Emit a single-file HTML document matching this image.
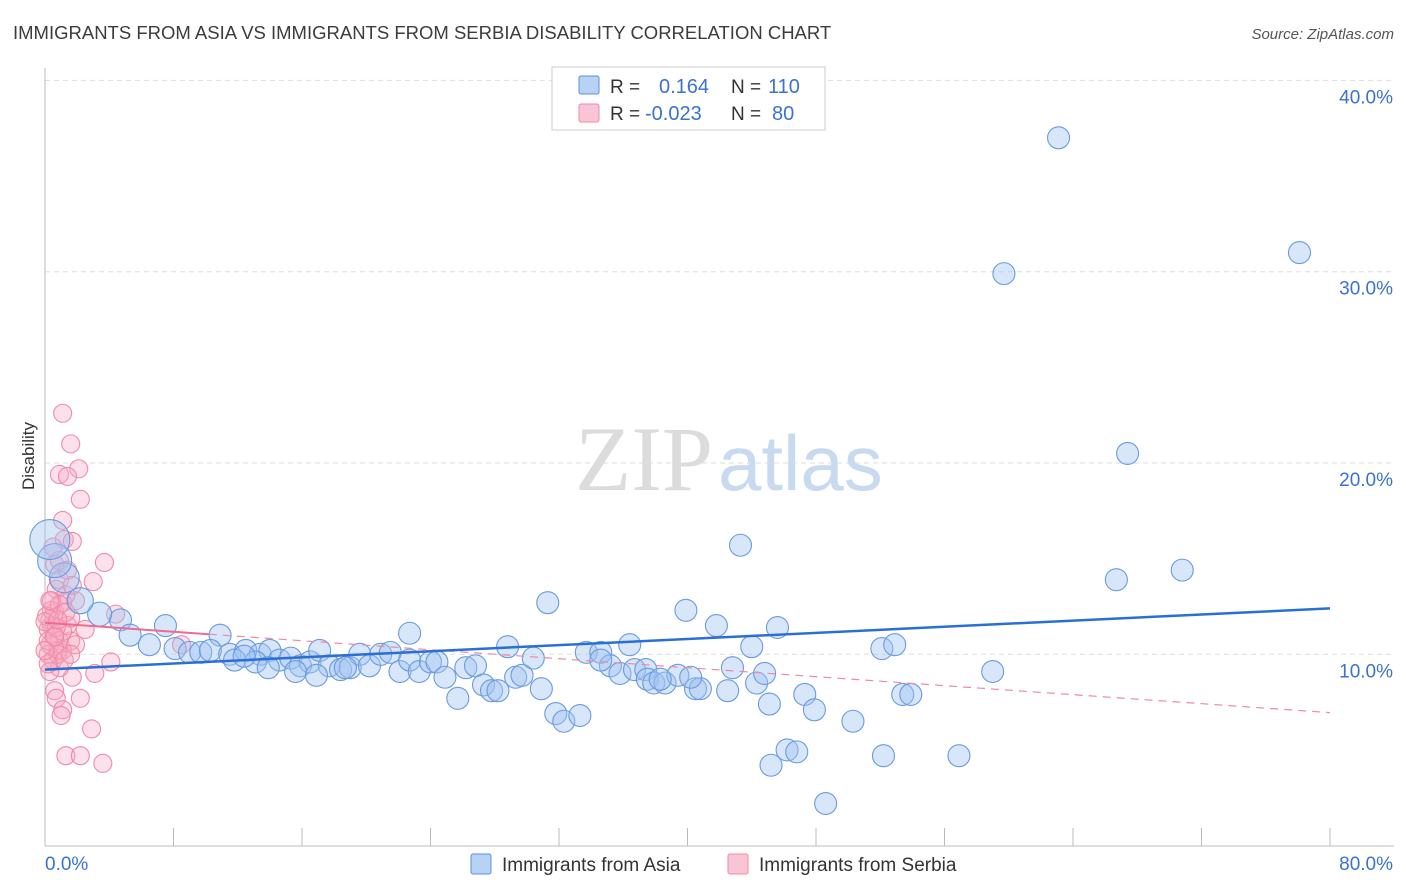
<!DOCTYPE html>
<html><head><meta charset="utf-8">
<style>
body{margin:0;background:#fff;font-family:"Liberation Sans",sans-serif;}
#wrap{position:relative;width:1406px;height:892px;overflow:hidden;}
svg{position:absolute;left:0;top:0;}
</style></head>
<body>
<div id="wrap">
<svg id="chart" width="1406" height="892">
  <text x="13" y="39" font-size="18.5" fill="#3c3c3c">IMMIGRANTS FROM ASIA VS IMMIGRANTS FROM SERBIA DISABILITY CORRELATION CHART</text>
  <text x="1394" y="39" font-size="15" fill="#555" font-style="italic" text-anchor="end">Source: ZipAtlas.com</text>
  <text x="713" y="490" font-size="92" fill="#dcdcdc" text-anchor="end" font-family="Liberation Serif,serif">ZIP</text>
  <text x="718" y="490" font-size="78" fill="#c8daf0">atlas</text>
  <text x="34" y="456" font-size="17" fill="#333" text-anchor="middle" transform="rotate(-90 34 456)">Disability</text>
  <g id="grid"></g>
  <g id="marks"></g>
  <g id="lines"></g>
  <g>
    <rect x="552" y="67" width="273" height="63" fill="#fff" stroke="#ccc"/>
    <rect x="579" y="76" width="20" height="18" fill="#b8d2f4" stroke="#5b8fde" rx="2"/>
    <rect x="579" y="104" width="20" height="18" fill="#f9c4d4" stroke="#f08aa8" rx="2"/>
    <text x="610" y="93" font-size="19" fill="#333">R =</text>
    <text x="659" y="93" font-size="20" fill="#3a72d0">0.164</text>
    <text x="731" y="93" font-size="19" fill="#333">N =</text>
    <text x="768" y="93" font-size="20" fill="#3a72d0">110</text>
    <text x="610" y="120" font-size="19" fill="#333">R =</text>
    <text x="645" y="120" font-size="20" fill="#3a72d0">-0.023</text>
    <text x="731" y="120" font-size="19" fill="#333">N =</text>
    <text x="772" y="120" font-size="20" fill="#3a72d0">80</text>
  </g>
  <g>
    <rect x="471" y="854" width="20" height="20" fill="#b8d2f4" stroke="#5b8fde" rx="2"/>
    <text x="502" y="871" font-size="19" fill="#333">Immigrants from Asia</text>
    <rect x="728" y="854" width="20" height="20" fill="#f9c4d4" stroke="#f08aa8" rx="2"/>
    <text x="759" y="871" font-size="19" fill="#333">Immigrants from Serbia</text>
  </g>
</svg>
</div>
<script>
const yTicks=[10,20,30,40];
const yTickLabels=["10.0%","20.0%","30.0%","40.0%"];
const xTickLabels=["0.0%","80.0%"];
const asiaX=[63.1,78.1,59.7,67.4,43.3,66.7,70.8,31.3,39.9,41.8,45.6,22.7,36.4,44.0,52.1,52.9,28.8,59.0,10.9,7.5,4.7,3.4,2.2,1.2,0.6,0.3,5.3,6.5,8.1,9.0,9.7,10.3,11.5,12.5,13.4,14.0,14.6,15.3,15.9,16.5,17.1,17.7,18.4,19.0,19.6,20.2,20.9,21.5,22.1,22.7,23.3,24.0,24.4,24.9,25.7,26.2,26.8,27.3,27.8,28.2,29.3,29.7,30.4,30.9,31.8,32.3,33.3,33.7,34.6,35.2,35.8,36.7,37.4,37.5,37.9,38.6,39.4,40.5,40.8,42.5,42.8,44.3,44.8,45.1,47.3,47.9,46.2,46.8,45.2,50.3,48.6,52.2,53.4,53.9,56.9,11.8,13.1,12.4,13.9,15.6,16.9,18.7,34.6,38.3,40.2];
const asiaY=[37.0,31.0,29.9,20.5,15.7,13.9,14.4,12.7,12.3,11.5,11.4,11.1,10.5,10.4,10.3,10.5,10.4,9.1,11.0,11.5,11.8,12.1,12.8,14.0,14.9,16.0,11.0,10.5,10.3,10.1,10.1,10.2,10.0,10.2,10.0,10.2,9.7,9.8,9.4,9.6,10.2,9.4,9.2,9.3,10.0,9.4,10.0,10.1,9.1,9.7,9.1,9.6,9.6,8.8,7.7,9.3,9.4,8.4,8.1,8.1,8.8,8.9,9.8,8.2,6.9,6.5,6.8,10.1,10.1,9.4,9.0,9.2,9.2,8.7,8.5,8.5,8.9,8.2,8.2,8.1,9.3,8.5,9.0,7.4,7.9,7.1,5.0,4.9,4.2,6.5,2.2,4.7,7.9,7.9,4.7,9.7,9.6,9.9,9.3,9.1,8.9,9.3,9.7,8.7,8.8];
const serbiaX=[1.1,1.6,2.1,0.9,1.4,2.2,1.1,1.2,1.7,0.6,0.9,3.7,3.0,1.9,1.1,0.6,0.3,0.4,0.2,0.6,0.9,0.3,0.8,0.2,0.5,1.1,1.6,1.4,2.5,4.4,3.1,1.7,0.9,0.3,0.6,2.2,0.7,1.1,1.0,2.9,1.3,2.2,3.6,8.5,4.1,0.7,1.3,0.4,1.1,1.6,0.2,0.7,0.8,0.1,0.4,1.2,1.9,0.9,0.0,0.3,0.6,1.3,0.8,1.6,0.2,0.9,0.5,1.4,1.7,0.0];
const serbiaY=[22.6,21.0,19.7,19.4,19.3,18.1,17.0,16.0,15.9,14.7,13.9,14.8,13.8,12.8,12.7,12.2,11.8,11.5,11.3,11.0,10.7,10.5,10.2,10.0,9.7,10.2,10.7,11.5,11.3,12.1,9.0,8.8,9.3,9.1,8.1,7.7,7.7,7.1,6.8,6.1,4.7,4.7,4.3,10.5,9.6,13.4,13.1,12.3,11.2,11.9,10.7,11.4,10.0,12.0,12.8,9.7,10.5,12.6,11.7,12.8,10.9,12.2,11.8,10.0,9.5,14.9,15.6,14.4,13.6,10.2];
const asiaTrend=[9.2,12.4];
const serbiaTrend=[11.65,6.95];
const serbiaSolidEnd=10.2;

const X0=45,X1=1330,Y0=845.6,PY=19.13;
const xs=v=>X0+v*(X1-X0)/80;
const ys=v=>Y0-v*PY;
const NS="http://www.w3.org/2000/svg";
function mk(tag,attrs,parent){const e=document.createElementNS(NS,tag);for(const k in attrs)e.setAttribute(k,attrs[k]);parent.appendChild(e);return e;}
const grid=document.getElementById('grid');
yTicks.forEach((t,i)=>{
  const l=mk('line',{x1:X0,x2:1394,y1:ys(t),y2:ys(t),stroke:'#ddd','stroke-dasharray':'5,4'},grid);
  
  
  const tx=mk('text',{x:1393,y:ys(t)+23,'font-size':19,fill:'#3a72d0','text-anchor':'end'},grid);
  tx.textContent=yTickLabels[i];
  
  
});
const ax=mk('line',{x1:X0,x2:X0,y1:68,y2:846,stroke:'#bbb'},grid);


const bx=mk('line',{x1:X0,x2:1394,y1:846,y2:846,stroke:'#bbb'},grid);


for(let i=0;i<=10;i++){
  const t=mk('line',{x1:xs(i*8),x2:xs(i*8),y1:828,y2:846,stroke:'#bbb'},grid);
  
  
}
const xl0=mk('text',{x:45,y:870,'font-size':19,fill:'#3a72d0'},grid);xl0.textContent=xTickLabels[0];


const xl1=mk('text',{x:1393,y:870,'font-size':19,fill:'#3a72d0','text-anchor':'end'},grid);xl1.textContent=xTickLabels[1];



const marks=document.getElementById('marks');
serbiaX.forEach((x,i)=>{
  const c=mk('circle',{cx:xs(x),cy:ys(serbiaY[i]),r:9,fill:'rgba(247,170,195,0.35)',stroke:'#f08aa8','stroke-width':1.1},marks);
  
  
});
asiaX.forEach((x,i)=>{
  let r=11;
  if(x<0.5)r=20;else if(x<1)r=17;else if(x<1.5)r=15;else if(x<2.5)r=13;else if(x<4)r=12;
  const c=mk('circle',{cx:xs(x),cy:ys(asiaY[i]),r:r,fill:'rgba(160,195,240,0.42)',stroke:'#6a9ae0','stroke-width':1.1},marks);
  
  
});
const lines=document.getElementById('lines');
const sl=(v)=>serbiaTrend[0]+(serbiaTrend[1]-serbiaTrend[0])*v/80;
const l1=mk('line',{x1:xs(0),y1:ys(sl(0)),x2:xs(serbiaSolidEnd),y2:ys(sl(serbiaSolidEnd)),stroke:'#ee6a90','stroke-width':2},lines);


const l2=mk('line',{x1:xs(serbiaSolidEnd),y1:ys(sl(serbiaSolidEnd)),x2:xs(80),y2:ys(sl(80)),stroke:'#ee8aa8','stroke-width':1.2,'stroke-dasharray':'8,6'},lines);


const l3=mk('line',{x1:xs(0),y1:ys(asiaTrend[0]),x2:xs(80),y2:ys(asiaTrend[1]),stroke:'#2a6fd6','stroke-width':2.5},lines);


</script>
</body></html>
